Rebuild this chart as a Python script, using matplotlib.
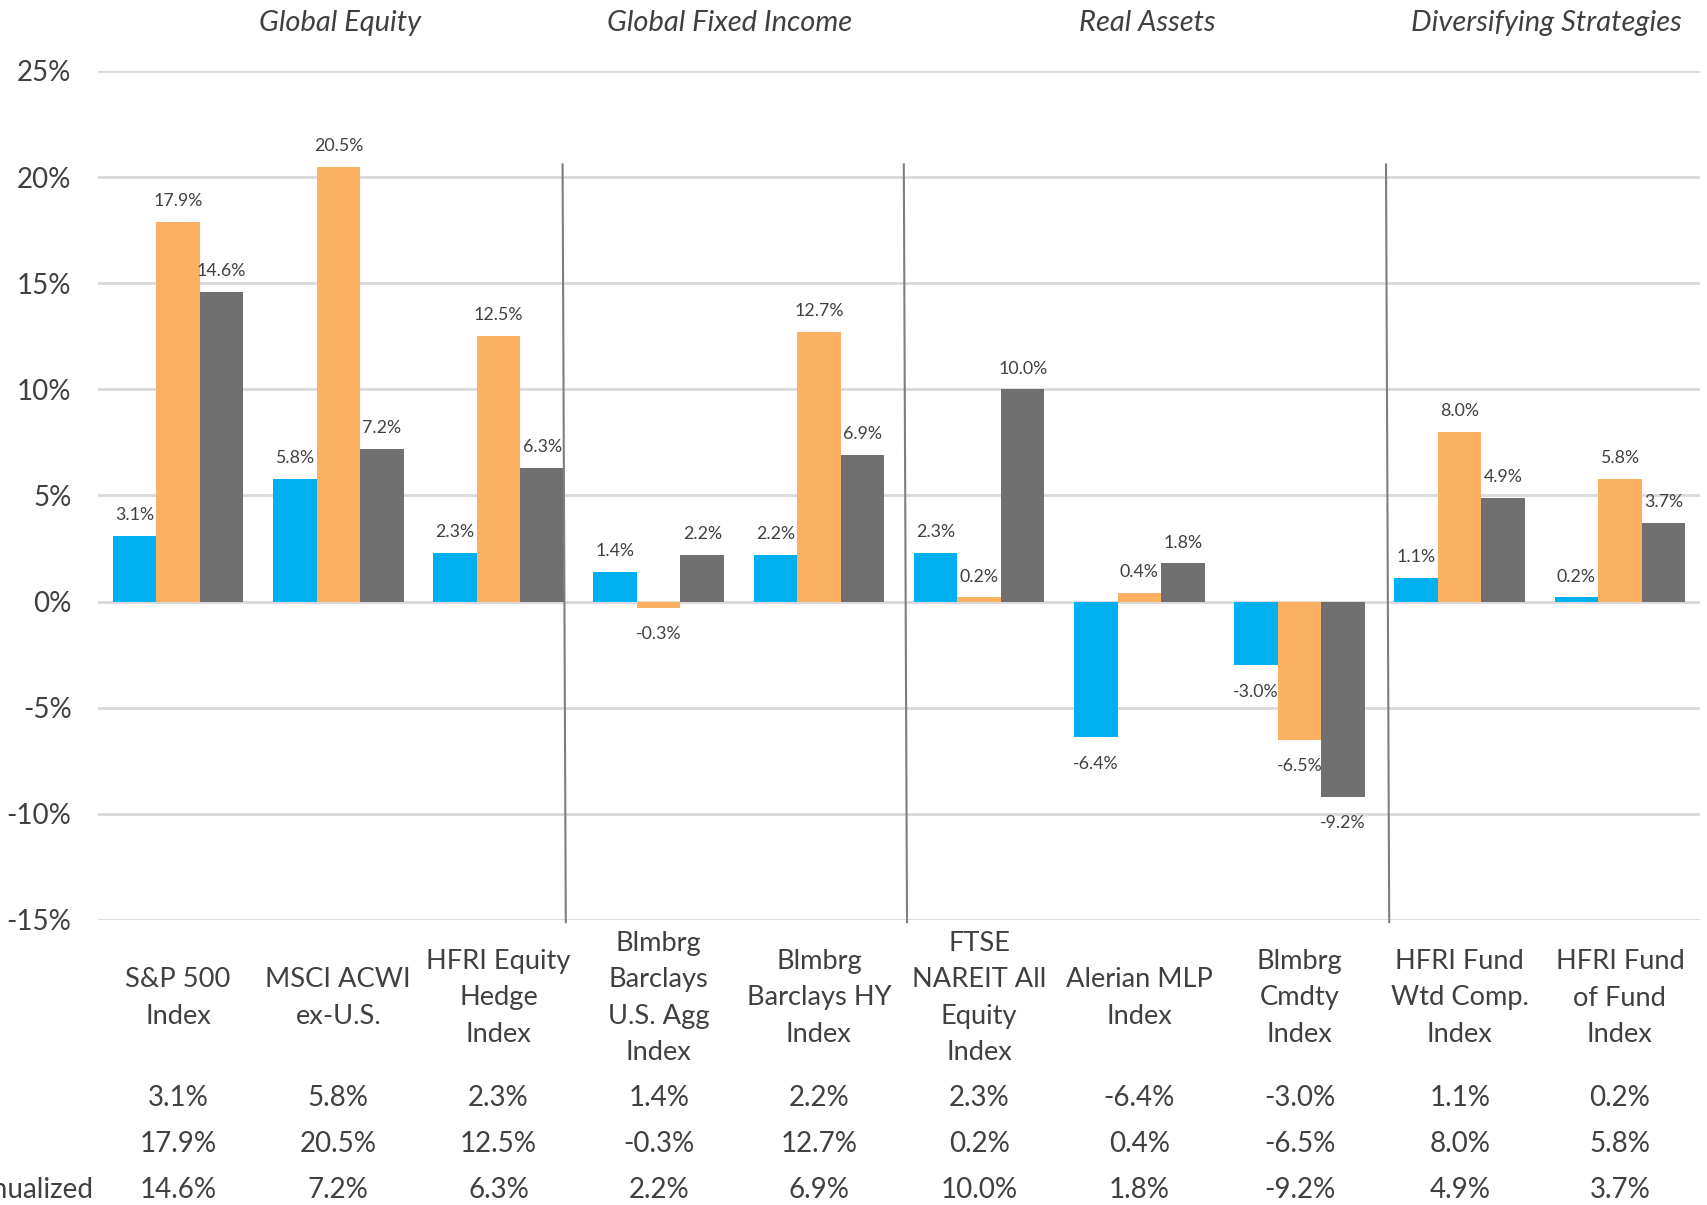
#!/usr/bin/env python3
"""Asset class returns — grouped bars with a data table underneath."""
import matplotlib.pyplot as plt
import numpy as np
from matplotlib.transforms import blended_transform_factory

CATEGORIES = [
    "S&P 500\nIndex",
    "MSCI ACWI\nex-U.S.",
    "HFRI Equity\nHedge\nIndex",
    "Blmbrg\nBarclays\nU.S. Agg\nIndex",
    "Blmbrg\nBarclays HY\nIndex",
    "FTSE\nNAREIT All\nEquity\nIndex",
    "Alerian MLP\nIndex",
    "Blmbrg\nCmdty\nIndex",
    "HFRI Fund\nWtd Comp.\nIndex",
    "HFRI Fund\nof Fund\nIndex",
]
SERIES = ["Quarter", "1 Year", "3 Years Annualized"]
QUARTER = [3.1, 5.8, 2.3, 1.4, 2.2, 2.3, -6.4, -3.0, 1.1, 0.2]
ONE_YEAR = [17.9, 20.5, 12.5, -0.3, 12.7, 0.2, 0.4, -6.5, 8.0, 5.8]
THREE_YEAR = [14.6, 7.2, 6.3, 2.2, 6.9, 10.0, 1.8, -9.2, 4.9, 3.7]
GROUPS = ["Global Equity", "Global Fixed Income", "Real Assets", "Diversifying Strategies"]
GROUP_X = [1.01, 3.44, 6.05, 8.54]
SEPARATORS = [2.40, 4.53, 7.54]

C_BLUE = "#00b0f0"
C_ORANGE = "#fbb062"
C_GRAY = "#707070"
TXT = "#404040"

plt.rcParams.update({"font.family": ["Lato", "DejaVu Sans"]})

W, H = 1708, 1205
fig = plt.figure(figsize=(W / 100, H / 100), dpi=100)
ax = fig.add_axes([98 / W, 1 - 920 / H, (1700 - 98) / W, (920 - 71) / H])

x = np.arange(len(CATEGORIES))
w = 0.272
values = [QUARTER, ONE_YEAR, THREE_YEAR]
colors = [C_BLUE, C_ORANGE, C_GRAY]
for k, (vals, col, name) in enumerate(zip(values, colors, SERIES)):
    xs = x + (k - 1) * w
    ax.bar(xs, vals, w, color=col, label=name, zorder=3)
    for xi, v in zip(xs, vals):
        off = 15 if v >= 0 else -19
        ax.annotate(f"{v:.1f}%", (xi, v), xytext=(0, off),
                    textcoords="offset points", ha="center", va="center",
                    fontsize=12.8, color=TXT)

ax.set_xlim(-0.5, 9.5)
ax.set_ylim(-15, 25)
ax.set_yticks(np.arange(-15, 26, 5))
ax.set_yticklabels([f"{t}%" for t in range(-15, 26, 5)], fontsize=20, color=TXT)
ax.tick_params(axis="y", length=0, pad=19)
ax.set_xticks([])
ax.grid(axis="y", color="#d9d9d9", linewidth=2, zorder=0)
for s in ax.spines.values():
    s.set_visible(False)

# hand-drawn style dividers between asset groups
for sx in SEPARATORS:
    ax.plot([sx, sx + 0.02], [20.6, -15.1], color="#7f7f7f", linewidth=1.5,
            clip_on=False, zorder=4)

tr = blended_transform_factory(ax.transData, fig.transFigure)
for gx, g in zip(GROUP_X, GROUPS):
    ax.text(gx, 1 - 23 / H, g, transform=tr, ha="center", va="center",
            fontsize=21, style="italic", color=TXT)

# Table under the plot
for xi, lab in zip(x, CATEGORIES):
    ax.text(xi, 1 - 998 / H, lab, transform=tr, ha="center", va="center",
            fontsize=19.6, color=TXT, linespacing=1.58)
row_y = [1098, 1144, 1190]
for vals, ry in zip(values, row_y):
    for xi, v in zip(x, vals):
        ax.text(xi, 1 - ry / H, f"{v:.1f}%", transform=tr, ha="center",
                va="center", fontsize=20, color=TXT)
# row label is cut off at the left edge, as in the source
fig.text(93 / W, 1 - row_y[2] / H, SERIES[2], ha="right", va="center",
         fontsize=20, color=TXT)

fig.savefig("out.png", dpi=100)
